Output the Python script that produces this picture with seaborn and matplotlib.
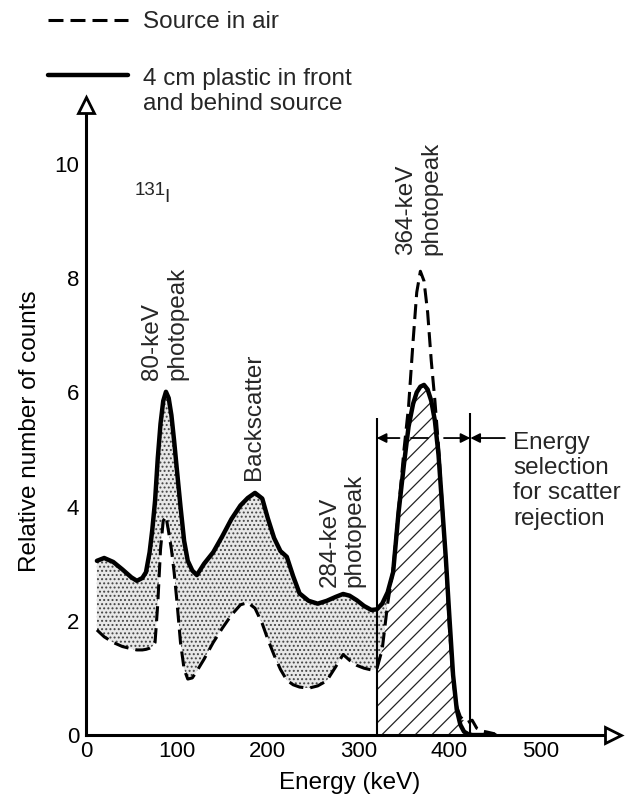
import numpy as np
import pandas as pd
import matplotlib
matplotlib.use("Agg")
import matplotlib.pyplot as plt
import seaborn as sns
from matplotlib.lines import Line2D

# ---------------- data ----------------
energy_kev = [12, 20, 30, 40, 50, 56, 62, 66, 70, 73, 76, 79, 82, 85, 88, 91, 94, 97,
              100, 104, 108, 112, 117, 122, 130, 140, 150, 160, 170, 178, 186, 194,
              200, 207, 214, 221, 228, 235, 245, 255, 265, 275, 283, 290, 298, 306,
              314, 320, 326, 332, 338, 344, 350, 355, 360, 364, 368, 372, 376, 380,
              384, 388, 392, 396, 400, 404, 408, 412, 416, 420, 425, 430, 436, 442, 450]

source_in_air = [1.84, 1.72, 1.62, 1.55, 1.51, 1.49, 1.49, 1.50, 1.52, 1.55, 1.62, 2.30,
                 3.25, 3.75, 3.83, 3.55, 3.25, 2.85, 2.35, 1.62, 1.15, 0.98, 1.00, 1.12,
                 1.33, 1.62, 1.87, 2.10, 2.28, 2.32, 2.22, 1.95, 1.68, 1.40, 1.15, 0.96,
                 0.88, 0.84, 0.82, 0.86, 0.95, 1.20, 1.41, 1.31, 1.22, 1.17, 1.14, 1.15,
                 1.50, 2.30, 2.90, 3.95, 5.00, 5.75, 6.90, 7.75, 8.12, 7.95, 7.40, 6.55,
                 5.85, 5.05, 4.05, 3.05, 1.85, 0.95, 0.50, 0.32, 0.25, 0.22, 0.26, 0.12,
                 0.07, 0.05, 0.02]

plastic_4cm = [3.05, 3.10, 3.03, 2.90, 2.76, 2.70, 2.75, 2.85, 3.20, 3.60, 4.10, 4.85,
               5.45, 5.85, 6.01, 5.90, 5.60, 5.15, 4.65, 4.00, 3.40, 3.05, 2.88, 2.80,
               3.00, 3.20, 3.48, 3.78, 4.02, 4.15, 4.24, 4.14, 3.80, 3.45, 3.22, 3.12,
               2.78, 2.48, 2.35, 2.30, 2.35, 2.42, 2.47, 2.44, 2.36, 2.26, 2.19, 2.20,
               2.30, 2.50, 2.85, 3.90, 4.75, 5.40, 5.80, 6.00, 6.10, 6.13, 6.05, 5.85,
               5.50, 4.90, 4.00, 3.10, 2.05, 1.05, 0.45, 0.18, 0.06, 0.02, 0.00, 0.00,
               0.00, 0.00, 0.00]

window_kev = [320, 423]          # energy selection window
window_top = [5.55, 5.64]

x_ticks = [0, 100, 200, 300, 400, 500]
y_ticks = [0, 2, 4, 6, 8, 10]
y_minor = [1, 3, 5, 7, 9]

# ---------------- style ----------------
sns.set_theme(style="white")
plt.rcParams["font.family"] = ["Liberation Sans", "DejaVu Sans"]
plt.rcParams["hatch.linewidth"] = 0.9

FS = 17.5      # annotation / label text
TFS = 16       # tick labels
LS = 1.2
DASH = (0, (4.9, 2.3))

fig = plt.figure(figsize=(6.25, 8.02), dpi=100)
ax = fig.add_axes([0.1376, 0.0835, 0.8432, 0.7855])

df = pd.DataFrame({"Energy": energy_kev, "air": source_in_air, "plastic": plastic_4cm})
E = df["Energy"].to_numpy(float)
d = df["air"].to_numpy(float)
s = df["plastic"].to_numpy(float)

# stippled region between the two curves
mask = E <= 340
ax.fill_between(E[mask], d[mask], s[mask], where=(s[mask] >= d[mask]), interpolate=True,
                facecolor="#e8e8e8", edgecolor="#444444", hatch="....", linewidth=0, zorder=1)

# hatched selection window
win = (E >= window_kev[0]) & (E <= window_kev[1])
upper = np.where(E < 396, np.minimum(s, d), np.maximum(s, d))
ax.fill_between(E[win], 0, upper[win], facecolor="white", edgecolor="#222222",
                hatch="//", linewidth=0, zorder=1)

sns.lineplot(data=df, x="Energy", y="air", color="black", linewidth=2.2,
             linestyle=DASH, sort=False, errorbar=None, ax=ax, zorder=3)
sns.lineplot(data=df, x="Energy", y="plastic", color="black", linewidth=3.2,
             sort=False, errorbar=None, ax=ax, zorder=4, solid_joinstyle="round")

# window lines and arrows
ax.vlines(window_kev, 0, window_top, color="black", linewidth=1.5, zorder=4)
arrow_y = 5.2
ap = dict(arrowstyle="-|>", color="black", lw=1.3, mutation_scale=14, shrinkA=0, shrinkB=0)
ax.annotate("", xy=(window_kev[0], arrow_y), xytext=(345, arrow_y), arrowprops=ap)
ax.plot([358, 376], [arrow_y, arrow_y], color="black", lw=1.3)
ax.annotate("", xy=(window_kev[1], arrow_y), xytext=(394, arrow_y), arrowprops=ap)
ax.annotate("", xy=(window_kev[1], arrow_y), xytext=(461, arrow_y), arrowprops=ap)
ax.text(470, 3.68, "Energy\nselection\nfor scatter\nrejection", fontsize=FS,
        ha="left", va="baseline", linespacing=LS)

# peak labels
ax.text(87, 6.22, "80-keV\nphotopeak", rotation=90, ha="center", va="bottom",
        multialignment="left", fontsize=FS, linespacing=LS)
ax.text(185, 4.47, "Backscatter", rotation=90, ha="center", va="bottom", fontsize=FS)
ax.text(282, 2.59, "284-keV\nphotopeak", rotation=90, ha="center", va="bottom",
        multialignment="left", fontsize=FS, linespacing=LS)
ax.text(366, 8.4, "364-keV\nphotopeak", rotation=90, ha="center", va="bottom",
        multialignment="left", fontsize=FS, linespacing=LS)
ax.text(54, 9.45, "131", fontsize=13.5, ha="left", va="baseline")
ax.text(86.5, 9.33, "I", fontsize=14, ha="left", va="baseline")

# axes
ax.set_xlim(0, 580)
ax.set_ylim(0, 11.03)
for side in ["top", "right"]:
    ax.spines[side].set_visible(False)
for side in ["left", "bottom"]:
    ax.spines[side].set_linewidth(2.2)
    ax.spines[side].set_color("black")
ax.set_xticks(x_ticks)
ax.set_yticks(y_ticks)
ax.set_yticks(y_minor, minor=True)
ax.tick_params(axis="y", which="major", direction="in", length=13, width=1.8,
               labelsize=TFS, pad=5, colors="black")
ax.tick_params(axis="y", which="minor", direction="in", length=7, width=1.8)
ax.tick_params(axis="x", which="major", direction="in", length=9, width=1.8,
               labelsize=TFS, pad=4, colors="black")
ax.set_xlabel("Energy (keV)", fontsize=FS, color="black")
ax.set_ylabel("Relative number of counts", fontsize=FS, color="black")
ax.xaxis.set_label_coords(0.5, -0.058)
ax.yaxis.set_label_coords(-0.085, 0.482)

ax.plot([0], [1], transform=ax.transAxes, marker="^", ms=11, mfc="white", mec="black",
        mew=2, clip_on=False, zorder=6)
ax.plot([1], [0], transform=ax.transAxes, marker=">", ms=11, mfc="white", mec="black",
        mew=2, clip_on=False, zorder=6)

# legend drawn above the axes
fig.add_artist(Line2D([48 / 625, 128 / 625], [1 - 20 / 802] * 2, transform=fig.transFigure,
                      color="black", lw=2.2, linestyle=DASH))
fig.add_artist(Line2D([48 / 625, 128 / 625], [1 - 75 / 802] * 2, transform=fig.transFigure,
                      color="black", lw=3.2))
fig.text(143 / 625, 1 - 28 / 802, "Source in air", fontsize=FS, ha="left", va="baseline")
fig.text(143 / 625, 1 - 110 / 802, "4 cm plastic in front\nand behind source", fontsize=FS,
         ha="left", va="baseline", linespacing=LS)

fig.savefig("out.png", dpi=100)
